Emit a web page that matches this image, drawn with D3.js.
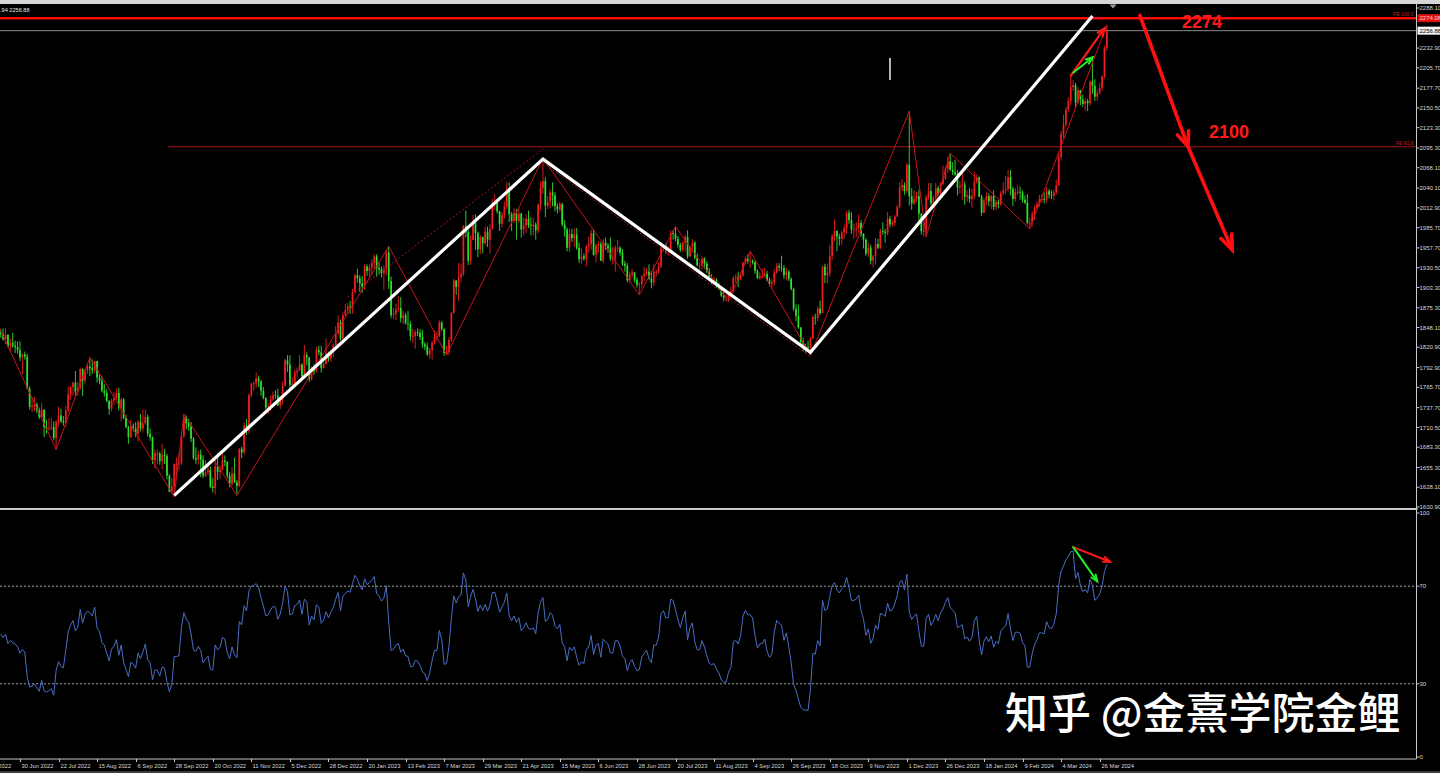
<!DOCTYPE html>
<html><head><meta charset="utf-8">
<script src="https://cdn.jsdelivr.net/npm/d3@7"></script>
<style>html,body{margin:0;padding:0;background:#000;overflow:hidden}</style>
</head><body>
<svg id="c" width="1440" height="773"></svg>
<script>
// ---------------- DATA ----------------
const startDate = "2022-05-31";
const firstVisible = "2022-06-20";
const holidays = ["2022-12-26","2023-01-02","2023-04-07","2023-12-25","2024-01-01","2024-03-29"];
const firstOpen = 1855;
const closes = [
1837,1847,1869,1851,1841,1852,1853,1848,1871,1819,1808,1834,1857,1840,
1839,1832,1838,1822,1827,1823,1821,1817,1807,
1811,1808,1764,1739,1740,1742,1734,1725,1735,1711,1708,1709,1711,1696,1718,1727,1719,1717,1734,1756,1766,
1772,1760,1765,1791,1775,1789,1794,1792,1789,1802,1779,1775,1761,1758,1747,1736,1748,1751,1758,1738,1749,1723,1711,
1697,1712,1709,1702,1718,1709,1716,1725,1702,1697,1665,1675,1675,1664,1673,1671,1644,1622,1629,1660,1660,1661,
1699,1725,1716,1712,1695,1668,1666,1673,1666,1644,1649,1652,1629,1627,1657,1649,1652,1665,1663,1644,1633,
1647,1635,1630,1681,1676,1713,1706,1755,1771,1771,1778,1774,1761,1751,1738,1740,1749,1755,1754,1741,1749,1768,
1803,1797,1769,1771,1786,1789,1797,1781,1810,1807,1777,1793,1788,1817,1814,1792,1798,1813,1805,1815,1824,
1840,1855,1833,1865,1872,1877,1876,1897,1920,1916,1909,1905,1932,1926,1931,1937,1946,1930,1928,1923,1928,
1951,1912,1865,1867,1873,1875,1861,1865,1854,1853,1836,1836,1842,1841,1835,1825,1822,1811,1817,1827,
1836,1836,1855,1846,1813,1814,1831,1868,1913,1904,1918,1922,1988,1979,1940,1969,1993,1978,1956,1973,1964,1980,1969,
1984,2020,2021,2008,1991,2003,2015,2040,2004,1995,2006,1995,2005,1983,1989,1998,1989,1988,1990,
1982,2017,2040,2050,2016,2021,2034,2030,2015,2011,2018,1990,1983,1958,1977,1971,1976,1958,1942,1946,1943,1960,1963,
1978,1948,1961,1963,1940,1965,1961,1957,1943,1943,1958,1958,1951,1936,1933,1913,1921,1924,1914,1907,1908,1919,
1922,1925,1915,1910,1925,1925,1932,1957,1961,1955,1955,1978,1977,1970,1962,1955,1965,1973,1946,1959,1965,
1944,1934,1934,1943,1936,1925,1915,1913,1914,1907,1902,1892,1889,1889,1895,1898,1916,1917,1914,1920,1937,1943,1940,
1940,1938,1926,1916,1919,1919,1922,1913,1908,1910,1924,1933,1931,1930,1920,1925,1915,1901,1874,1864,1848,
1828,1822,1821,1820,1833,1862,1861,1874,1868,1932,1920,1923,1947,1974,1981,1973,1970,1979,1985,2006,1996,1983,
1983,1985,1992,1977,1969,1950,1958,1940,1946,1963,1958,1981,1980,1978,1998,1990,1992,2001,2014,2041,2044,2036,
2072,2029,2019,2025,2029,2005,1981,1981,2027,2036,2019,2027,2040,2031,2046,2053,2067,2077,2065,2062,
2059,2041,2043,2045,2028,2030,2025,2029,2049,2055,2028,2006,2023,2029,2022,2029,2014,2021,2018,2033,2037,2039,
2055,2039,2025,2035,2035,2034,2024,2020,1992,1992,2004,2013,2018,2025,2025,2024,2036,2031,2030,2034,2044,
2083,2114,2128,2148,2160,2179,2182,2158,2175,2162,2156,2160,2157,2187,2181,2166,2171,2178,2194,2233,
2256.88];
const highs = [
1858,1849,1871,1874,1855,1855,1864,1857,1876,1878,1833,1838,1858,1860,
1846,1847,1847,1839,1833,1841,1830,1829,1829,
1812,1815,1812,1767,1752,1752,1745,1738,1745,1735,1721,1723,1724,1719,1721,1739,1736,1726,1740,1767,1767,
1774,1788,1773,1793,1792,1790,1797,1807,1804,1802,1800,1783,1781,1770,1763,1748,1750,1759,1764,1765,1751,1751,1728,
1713,1721,1716,1718,1721,1729,1735,1735,1728,1709,1698,1680,1680,1677,1688,1681,1674,1646,1641,1661,1669,1675,
1704,1729,1727,1722,1718,1697,1683,1679,1680,1672,1665,1660,1657,1641,1671,1675,1658,1674,1672,1664,1649,
1656,1669,1638,1682,1684,1718,1722,1757,1772,1774,1786,1782,1776,1766,1752,1744,1754,1760,1762,1764,1754,1774,
1805,1810,1810,1779,1790,1793,1810,1799,1824,1814,1801,1795,1798,1822,1823,1823,1804,1833,1815,1818,1826,
1850,1865,1859,1869,1881,1882,1885,1901,1922,1929,1920,1919,1935,1935,1935,1942,1949,1949,1938,1932,1933,
1955,1960,1918,1875,1881,1891,1890,1871,1868,1871,1857,1846,1845,1847,1846,1845,1828,1827,1820,1830,
1844,1843,1858,1857,1847,1823,1835,1870,1915,1913,1937,1935,1989,2009,1983,1975,2003,2004,1980,1975,1973,1987,1987,
1990,2025,2032,2024,2009,2007,2022,2048,2048,2007,2012,2011,2012,2006,1999,2004,2009,2000,1999,
1993,2019,2049,2081,2055,2029,2039,2048,2035,2019,2022,2020,1996,1986,1984,1984,1985,1985,1965,1957,1950,1962,1973,
1983,1983,1964,1967,1966,1970,1972,1964,1972,1959,1961,1969,1960,1956,1940,1937,1925,1929,1925,1917,1911,1920,
1932,1930,1935,1926,1935,1928,1938,1960,1963,1964,1960,1982,1982,1987,1974,1965,1967,1976,1982,1961,1970,
1967,1950,1937,1946,1945,1939,1930,1922,1918,1916,1910,1903,1897,1893,1896,1904,1919,1922,1925,1923,1939,1946,1949,
1953,1942,1940,1928,1924,1929,1930,1926,1917,1915,1928,1937,1937,1947,1934,1930,1927,1917,1903,1880,1880,
1849,1834,1826,1830,1835,1865,1867,1877,1885,1933,1936,1936,1962,1977,1997,1982,1977,1981,1990,2009,2010,2007,
1991,1993,2004,1996,1978,1971,1965,1962,1948,1971,1970,1984,1993,1984,2007,2002,1996,2003,2017,2048,2052,2048,
2075,2146,2040,2037,2035,2038,2005,1994,2031,2047,2047,2030,2047,2043,2048,2071,2070,2084,2088,2076,
2079,2065,2050,2064,2049,2037,2040,2039,2062,2059,2056,2031,2026,2034,2033,2031,2037,2024,2024,2036,2049,2057,
2065,2065,2042,2040,2044,2042,2037,2030,2032,1999,2008,2016,2022,2031,2032,2034,2041,2039,2037,2038,2052,
2088,2119,2141,2152,2165,2195,2189,2185,2179,2175,2169,2164,2163,2188,2222,2190,2176,2185,2195,2236,
2265];
const lows = [
1829,1828,1843,1848,1836,1838,1847,1843,1825,1817,1804,1805,1823,1834,
1834,1830,1825,1821,1816,1820,1813,1812,1802,
1784,1804,1763,1735,1732,1733,1730,1722,1724,1697,1702,1706,1707,1693,1680,1712,1717,1713,1711,1732,1749,
1754,1754,1754,1762,1754,1771,1784,1781,1784,1785,1772,1770,1759,1753,1745,1728,1733,1741,1748,1734,1719,1722,1709,
1688,1696,1705,1697,1691,1705,1705,1714,1698,1692,1660,1654,1660,1659,1653,1660,1639,1621,1618,1615,1641,1652,
1659,1696,1708,1706,1690,1666,1660,1659,1642,1641,1642,1645,1627,1621,1618,1638,1639,1651,1657,1640,1628,
1630,1634,1617,1628,1668,1673,1700,1702,1752,1761,1765,1766,1754,1749,1735,1729,1733,1747,1750,1740,1736,1742,
1767,1787,1765,1762,1770,1779,1788,1775,1778,1796,1773,1775,1783,1786,1810,1786,1793,1797,1801,1801,1807,
1822,1838,1830,1825,1864,1867,1867,1867,1895,1910,1897,1896,1900,1919,1916,1920,1928,1918,1921,1917,1900,
1920,1901,1861,1860,1858,1870,1855,1853,1852,1844,1830,1827,1819,1836,1831,1820,1817,1809,1805,1804,
1825,1829,1835,1843,1809,1810,1810,1829,1867,1893,1885,1910,1919,1972,1934,1934,1968,1955,1945,1949,1950,1961,1959,
1950,1983,2010,2005,1981,1986,1998,2011,1993,1981,1992,1969,1992,1972,1975,1978,1985,1975,1975,
1969,1978,2010,2032,2000,2011,2012,2015,2008,2005,2007,1987,1973,1953,1952,1966,1959,1955,1937,1936,1940,1932,1951,
1955,1947,1938,1951,1940,1937,1955,1951,1940,1935,1925,1952,1947,1933,1925,1910,1910,1917,1910,1903,1893,1903,
1912,1919,1914,1902,1905,1918,1922,1930,1953,1950,1947,1952,1969,1967,1958,1952,1952,1953,1943,1945,1952,
1942,1932,1927,1928,1929,1923,1914,1908,1910,1903,1900,1890,1884,1884,1884,1890,1896,1910,1904,1913,1918,1935,1936,
1930,1935,1922,1915,1914,1915,1918,1912,1905,1901,1906,1922,1926,1925,1915,1913,1912,1899,1871,1857,1846,
1822,1815,1813,1816,1810,1832,1852,1857,1865,1868,1909,1909,1918,1941,1967,1953,1961,1962,1970,1977,1991,1977,
1970,1973,1978,1973,1957,1947,1945,1935,1931,1935,1956,1956,1976,1965,1975,1986,1987,1988,2000,2012,2036,2031,
2033,2016,2010,2017,2021,1995,1976,1973,1974,2024,2016,2015,2017,2029,2026,2044,2051,2061,2064,2058,
2057,2030,2033,2024,2017,2021,2020,2013,2025,2046,2028,2002,2007,2016,2015,2011,2010,2009,2012,2015,2030,2032,
2035,2030,2015,2021,2031,2024,2020,2018,1990,1984,1987,1996,2011,2014,2020,2019,2020,2026,2025,2024,2031,
2043,2078,2109,2124,2145,2154,2174,2150,2156,2154,2152,2146,2146,2154,2170,2160,2160,2169,2174,2191,
2229];
const priceTicks = [2288.10,2232.90,2205.70,2177.70,2150.50,2123.30,2095.30,2068.10,2040.10,2012.90,1985.70,1957.70,1930.50,1903.30,1875.30,1848.10,1820.90,1792.90,1765.70,1737.70,1710.50,1683.30,1655.30,1628.10,1600.90];
const priceDomain = [1600.90, 2288.10];
const rsiTicks = [100,70,30,0];
const rsiLevels = [70,30];
const rsiPeriod = 14;
const dateLabels = ["8 Jun 2022","30 Jun 2022","22 Jul 2022","15 Aug 2022","6 Sep 2022","28 Sep 2022","20 Oct 2022","11 Nov 2022","5 Dec 2022","28 Dec 2022","20 Jan 2023","13 Feb 2023","7 Mar 2023","29 Mar 2023","21 Apr 2023","15 May 2023","6 Jun 2023","28 Jun 2023","20 Jul 2023","11 Aug 2023","4 Sep 2023","26 Sep 2023","18 Oct 2023","9 Nov 2023","1 Dec 2023","26 Dec 2023","18 Jan 2024","9 Feb 2024","4 Mar 2024","26 Mar 2024"];
const fe100 = 2274.08, fe618 = 2097.0, bid = 2256.88;
const headerText = ".94 2256.88";
const watermark = "知乎 @金熹学院金鲤";
// annotations: [date or bar-number from first visible bar, value]
const zigzag = [["2022-06-16",1858],["2022-07-21",1680],["2022-08-10",1807],["2022-09-28",1615],["2022-10-04",1729],["2022-11-03",1617],["2023-02-02",1960],["2023-03-08",1810],["2023-05-04",2081],["2023-06-29",1893],["2023-07-20",1987],["2023-08-21",1884],["2023-09-01",1953],["2023-10-06",1810],["2023-12-04",2146],["2023-12-13",1973],["2023-12-28",2088],["2024-02-14",1984],["2024-04-01",2265]];
const whiteTrend = [["2022-09-28",1617],["2023-05-04",2080],["2023-10-06",1814],["2024-03-21",2277]];
const channelUp = [["2023-01-10",1890],["2023-05-04",2094]];
const channelDown = [["2023-05-04",2075],["2023-10-06",1808]];
const bigArrow = [[472.7,2278],[492.7,2097],[511,1955]];
const priceRedArrow = [["2024-03-08",2195],["2024-03-28",2260]];
const priceGreenArrow = [["2024-03-11",2199],["2024-03-21",2220]];
const rsiRedArrow = [[445,86],[460.3,80]];
const rsiGreenArrow = [[445,86],[455,72]];
const bigLabels = [["2274",1182,28],["2100",1209,138]];

// ---------------- LAYOUT ----------------
const W = 1440, H = 773;
const axisX = 1416.5;
const mainTop = 5, mainBottom = 508;
const rsiTop = 510, rsiBottom = 759;
const RED = "#f01e1e", GREEN = "#2ee02e";

const svg = d3.select("#c");
svg.append("rect").attr("width",W).attr("height",H).attr("fill","#000");

// dates
const fmtISO = d3.utcFormat("%Y-%m-%d");
const fmtLbl = d3.utcFormat("%-d %b %Y");
const dates = [];
let dt = new Date(startDate + "T00:00:00Z");
while (dates.length < closes.length) {
  const dow = dt.getUTCDay(), iso = fmtISO(dt);
  if (dow !== 0 && dow !== 6 && !holidays.includes(iso)) dates.push(new Date(dt));
  dt = new Date(dt.getTime() + 864e5);
}
const idxISO = new Map(dates.map((d,i)=>[fmtISO(d),i]));
const idxLbl = new Map(dates.map((d,i)=>[fmtLbl(d),i]));
const i0 = idxISO.get(firstVisible);
const x = d3.scaleLinear().domain([i0, i0+1]).range([0.7, 0.7+2.41]);
const y = d3.scaleLinear().domain(priceDomain).range([507, 8]);
const yr = d3.scaleLinear().domain([0,100]).range([757, 513]);
const bx = p => typeof p[0] === "string" ? x(idxISO.get(p[0])) : x(i0 + p[0]);

// defs/clips
const defs = svg.append("defs");
defs.append("clipPath").attr("id","cm").append("rect").attr("x",0).attr("y",mainTop).attr("width",axisX).attr("height",mainBottom-mainTop);
defs.append("clipPath").attr("id","cr").append("rect").attr("x",0).attr("y",rsiTop).attr("width",axisX).attr("height",rsiBottom-rsiTop);
defs.append("clipPath").attr("id","cd").append("rect").attr("x",0).attr("y",rsiBottom).attr("width",W).attr("height",H-rsiBottom);

// top strip
svg.append("rect").attr("x",0).attr("y",0).attr("width",W).attr("height",4).attr("fill","#d6d6d6");
svg.append("path").attr("d",`M1109.5,4.5 L1116.5,4.5 L1113,8.5 Z`).attr("fill","#9a9a9a");

const main = svg.append("g").attr("clip-path","url(#cm)");

// horizontal level lines
main.append("line").attr("x1",0).attr("x2",axisX).attr("y1",y(bid)).attr("y2",y(bid)).attr("stroke","#8a8a8a").attr("stroke-width",1);
main.append("line").attr("x1",x(i0)+167).attr("x2",axisX).attr("y1",y(fe618)).attr("y2",y(fe618)).attr("stroke","#a8141e").attr("stroke-width",1);

// candles
const n = closes.length;
const cg = main.append("g");
for (let i = 0; i < n; i++) {
  const o = i === 0 ? firstOpen : closes[i-1], c = closes[i];
  const hi = Math.max(highs[i], o, c), lo = Math.min(lows[i], o, c);
  const col = c >= o ? RED : GREEN;
  const xc = x(i);
  if (xc < -3) continue;
  cg.append("line").attr("x1",xc).attr("x2",xc).attr("y1",y(hi)).attr("y2",y(lo)).attr("stroke",col).attr("stroke-width",0.9);
  const yt = Math.min(y(o),y(c)), hh = Math.max(0.9, Math.abs(y(o)-y(c)));
  cg.append("rect").attr("x",xc-0.85).attr("y",yt).attr("width",1.7).attr("height",hh).attr("fill",col);
}

// zigzag + channel lines
const lineP = d3.line().x(bx).y(p=>y(p[1]));
main.append("path").attr("d",lineP(zigzag)).attr("fill","none").attr("stroke","#c8141e").attr("stroke-width",1);
main.append("path").attr("d",lineP(channelUp)).attr("fill","none").attr("stroke","#a01818").attr("stroke-width",1).attr("stroke-dasharray","2,2");
main.append("path").attr("d",lineP(channelDown)).attr("fill","none").attr("stroke","#a01818").attr("stroke-width",1).attr("stroke-dasharray","2,2");

// FE 100 red line
main.append("line").attr("x1",0).attr("x2",axisX).attr("y1",y(fe100)).attr("y2",y(fe100)).attr("stroke","#ff0a0a").attr("stroke-width",2.6);

// white trend
main.append("path").attr("d",lineP(whiteTrend)).attr("fill","none").attr("stroke","#fff").attr("stroke-width",3.2).attr("stroke-linejoin","miter");

// small cursor mark
main.append("line").attr("x1",890).attr("x2",890).attr("y1",58).attr("y2",80).attr("stroke","#fff").attr("stroke-width",1.4);

// arrows
function arrow(g, pts, col, w, head) {
  g.append("path").attr("d", d3.line()(pts)).attr("fill","none").attr("stroke",col).attr("stroke-width",w).attr("stroke-linecap","round");
  for (let k = 1; k < pts.length; k++) {
    const [xa,ya] = pts[k-1], [xb,yb] = pts[k];
    const ang = Math.atan2(yb-ya, xb-xa);
    const a1 = ang + Math.PI - 0.38, a2 = ang + Math.PI + 0.38;
    g.append("path").attr("d", `M${xb+head*Math.cos(a1)},${yb+head*Math.sin(a1)} L${xb},${yb} L${xb+head*Math.cos(a2)},${yb+head*Math.sin(a2)}`)
      .attr("fill","none").attr("stroke",col).attr("stroke-width",w).attr("stroke-linejoin","miter").attr("stroke-linecap","round");
  }
}
arrow(main, bigArrow.map(p=>[bx(p), y(p[1])]), "#ff1010", 3.6, 16);
arrow(main, priceRedArrow.map(p=>[bx(p), y(p[1])]), "#ff1a1a", 2.2, 8);
arrow(main, priceGreenArrow.map(p=>[bx(p), y(p[1])]), "#22ee22", 2, 7);

// big labels
bigLabels.forEach(([t,lx,ly]) => svg.append("text").attr("x",lx).attr("y",ly).text(t)
  .attr("font-family","Liberation Sans, Arial, sans-serif").attr("font-weight","bold").attr("font-size",18).attr("fill","#ff1a1a"));

// FE labels
svg.append("text").attr("x",axisX-3).attr("y",y(fe100)-2.5).attr("text-anchor","end").text("FE 100.0")
  .attr("font-family","Liberation Sans, Arial, sans-serif").attr("font-size",5).attr("fill","#c82020");
svg.append("text").attr("x",axisX-3).attr("y",y(fe618)-1.5).attr("text-anchor","end").text("FE 61.8")
  .attr("font-family","Liberation Sans, Arial, sans-serif").attr("font-size",5).attr("fill","#c82020");

// header text
svg.append("text").attr("x",0).attr("y",12).text(headerText).attr("font-family","Liberation Sans, Arial, sans-serif").attr("font-size",5.6).attr("fill","#e8e8e8");

// separators and axes
svg.append("rect").attr("x",0).attr("y",mainBottom).attr("width",axisX+1).attr("height",2).attr("fill","#c8c8c8");
svg.append("line").attr("x1",axisX).attr("x2",axisX).attr("y1",4).attr("y2",rsiBottom).attr("stroke","#c8c8c8").attr("stroke-width",1);
svg.append("line").attr("x1",0).attr("x2",axisX).attr("y1",rsiBottom).attr("y2",rsiBottom).attr("stroke","#c8c8c8").attr("stroke-width",1.2);
svg.append("line").attr("x1",0).attr("x2",W).attr("y1",772).attr("y2",772).attr("stroke","#7a7a7a").attr("stroke-width",1);

const axF = "Liberation Sans, Arial, sans-serif";
// price axis
const pa = svg.append("g");
priceTicks.forEach(v => {
  pa.append("line").attr("x1",axisX).attr("x2",axisX+3).attr("y1",y(v)).attr("y2",y(v)).attr("stroke","#c8c8c8");
  pa.append("text").attr("x",axisX+3).attr("y",y(v)).attr("dy","0.35em").text(v.toFixed(2))
    .attr("font-family",axF).attr("font-size",6).attr("fill","#d8d8d8");
});
// FE100 box and bid box
pa.append("rect").attr("x",axisX+1).attr("y",y(fe100)-4).attr("width",W-axisX).attr("height",8).attr("fill","#e01010");
pa.append("text").attr("x",axisX+3).attr("y",y(fe100)).attr("dy","0.35em").text(fe100.toFixed(2)).attr("font-family",axF).attr("font-size",6).attr("fill","#ffd0d0");
pa.append("rect").attr("x",axisX+1).attr("y",y(bid)-4).attr("width",W-axisX).attr("height",8).attr("fill","#f4f4f4");
pa.append("text").attr("x",axisX+3).attr("y",y(bid)).attr("dy","0.35em").text(bid.toFixed(2)).attr("font-family",axF).attr("font-size",6).attr("fill","#000");

// RSI
const rsi = new Array(n).fill(null);
let ag = 0, al = 0;
for (let i = 1; i < n; i++) {
  const ch = closes[i] - closes[i-1], g = Math.max(ch,0), l = Math.max(-ch,0);
  if (i <= rsiPeriod) { ag += g/rsiPeriod; al += l/rsiPeriod; if (i === rsiPeriod) rsi[i] = 100 - 100/(1+ag/al); }
  else { ag = (ag*(rsiPeriod-1)+g)/rsiPeriod; al = (al*(rsiPeriod-1)+l)/rsiPeriod; rsi[i] = al === 0 ? 100 : 100 - 100/(1+ag/al); }
}
const rg = svg.append("g").attr("clip-path","url(#cr)");
rsiLevels.forEach(v => rg.append("line").attr("x1",0).attr("x2",axisX).attr("y1",yr(v)).attr("y2",yr(v))
  .attr("stroke","#b4b4b4").attr("stroke-width",0.9).attr("stroke-dasharray","2,2"));
const rsiPts = rsi.map((v,i)=>[i,v]).filter(p=>p[1]!==null);
rg.append("path").attr("d", d3.line().x(p=>x(p[0])).y(p=>yr(p[1]))(rsiPts)).attr("fill","none").attr("stroke","#4a6ec4").attr("stroke-width",1);
arrow(rg, rsiRedArrow.map(p=>[x(i0+p[0]), yr(p[1])]), "#ff1a1a", 2, 7);
arrow(rg, rsiGreenArrow.map(p=>[x(i0+p[0]), yr(p[1])]), "#22ee22", 2, 7);
rsiTicks.forEach(v => {
  svg.append("line").attr("x1",axisX).attr("x2",axisX+3).attr("y1",yr(v)).attr("y2",yr(v)).attr("stroke","#c8c8c8");
  svg.append("text").attr("x",axisX+3).attr("y",yr(v)).attr("dy","0.35em").text(v).attr("font-family",axF).attr("font-size",6).attr("fill","#d8d8d8");
});

// date axis (first label runs off the left edge, as in the source chart)
const da = svg.append("g").attr("clip-path","url(#cd)");
dateLabels.forEach(lbl => {
  const i = idxLbl.get(lbl); if (i === undefined) return;
  const xt = Math.round(x(i)) + 0.5;
  da.append("line").attr("x1",xt).attr("x2",xt).attr("y1",rsiBottom).attr("y2",rsiBottom+3).attr("stroke","#c8c8c8");
  da.append("text").attr("x",xt+1).attr("y",768).text(lbl).attr("font-family",axF).attr("font-size",5.8).attr("fill","#d8d8d8");
});

// watermark
svg.append("text").attr("x",1005).attr("y",729).text(watermark)
  .attr("font-family","Noto Sans CJK SC, sans-serif").attr("font-weight",500).attr("font-size",43).attr("fill","#fff");
</script>
</body></html>
